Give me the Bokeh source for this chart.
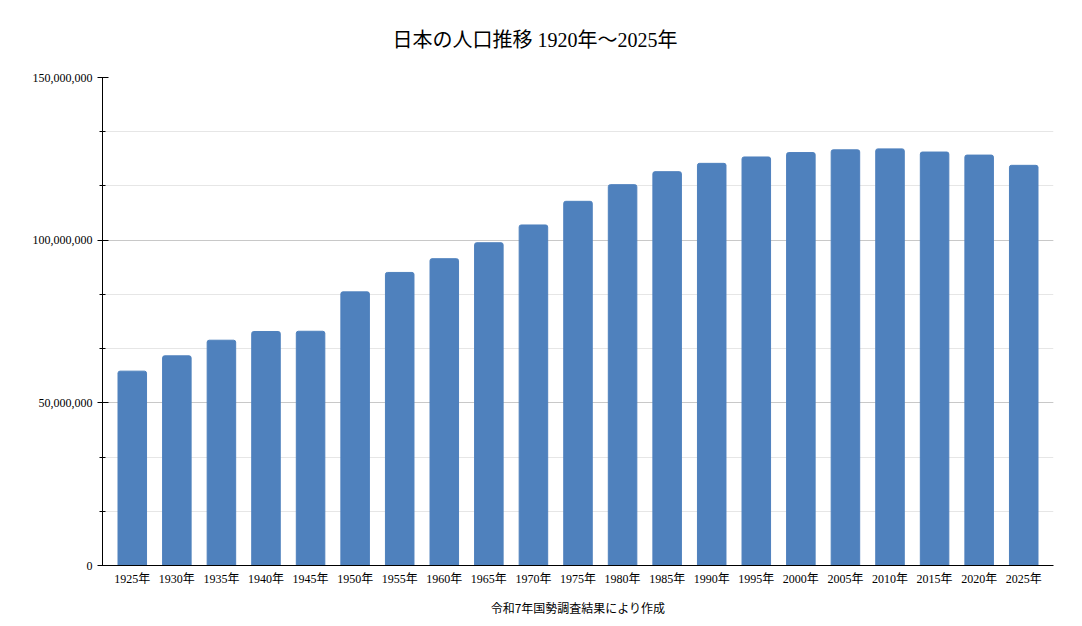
from bokeh.plotting import figure
from bokeh.models import FactorRange, Range1d, SingleIntervalTicker, NumeralTickFormatter
from bokeh.embed import file_html
from bokeh.resources import INLINE

# Population of Japan by census year
years = ["1925年", "1930年", "1935年", "1940年", "1945年", "1950年", "1955年",
         "1960年", "1965年", "1970年", "1975年", "1980年", "1985年", "1990年",
         "1995年", "2000年", "2005年", "2010年", "2015年", "2020年", "2025年"]
population = [59740000, 64450000, 69250000, 71930000, 72000000, 84110000, 90080000,
              94300000, 99210000, 104670000, 111940000, 117060000, 121050000, 123610000,
              125570000, 126930000, 127770000, 128060000, 127090000, 126150000, 123000000]

serif = "'Liberation Serif', 'Noto Sans CJK JP'"

p = figure(x_range=FactorRange(*years, range_padding=0.016),
           y_range=Range1d(0, 150000000),
           width=1080, height=622,
           title="日本の人口推移 1920年～2025年",
           output_backend="svg", toolbar_location=None,
           min_border_left=102, min_border_right=27,
           min_border_top=77, min_border_bottom=57)

p.vbar(x=years, top=population, width=0.64, color="#4F81BD", border_radius=(2, 2, 0, 0))

p.title.align = "left"
p.title.offset = 290
p.title.text_font = serif
p.title.text_font_size = "20px"
p.title.text_font_style = "normal"
p.title.text_color = "#000000"
p.title.standoff = 50
p.title.vertical_align = "top"

p.outline_line_color = None
p.background_fill_color = "white"
p.border_fill_color = "white"

# y axis
p.yaxis.ticker = SingleIntervalTicker(interval=50000000, num_minor_ticks=3)
p.yaxis.formatter = NumeralTickFormatter(format="0,0")
p.yaxis.major_label_text_font = serif
p.yaxis.major_label_text_font_size = "12px"
p.yaxis.major_label_text_color = "#000000"
p.yaxis.axis_line_color = "#000000"
p.yaxis.major_tick_line_color = "#000000"
p.yaxis.minor_tick_line_color = "#000000"
p.yaxis.major_tick_in = 6
p.yaxis.major_tick_out = 5
p.yaxis.minor_tick_in = 3
p.yaxis.minor_tick_out = 3
p.yaxis.major_label_standoff = 5

p.ygrid.grid_line_color = "#c8c8c8"
p.ygrid.minor_grid_line_color = "#e6e6e6"
p.xgrid.grid_line_color = None

# x axis
p.xaxis.axis_line_color = "#000000"
p.xaxis.major_tick_line_color = None
p.xaxis.minor_tick_line_color = None
p.xaxis.major_label_text_font = serif
p.xaxis.major_label_text_font_size = "12px"
p.xaxis.major_label_text_color = "#000000"
p.xaxis.major_label_standoff = 0
p.xaxis.axis_label = "令和7年国勢調査結果により作成"
p.xaxis.axis_label_text_font = "'Noto Sans CJK JP'"
p.xaxis.axis_label_text_font_size = "12px"
p.xaxis.axis_label_text_font_style = "normal"
p.xaxis.axis_label_text_color = "#000000"
p.xaxis.axis_label_standoff = 10

open("out.html", "w").write(file_html(p, INLINE))
